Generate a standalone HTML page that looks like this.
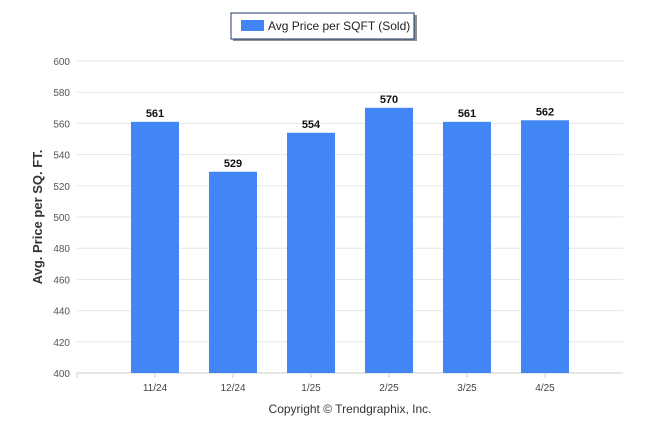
<!DOCTYPE html>
<html><head><meta charset="utf-8"><style>
body{margin:0;background:#fff;font-family:"Liberation Sans",sans-serif}
</style></head><body>
<svg width="646" height="434" xmlns="http://www.w3.org/2000/svg">
<g>
<rect x="233" y="15" width="184" height="26" fill="#8a8f99"/>
<rect x="231" y="13" width="183" height="26" fill="#fff" stroke="#1f3a63" stroke-width="1"/>
<rect x="241" y="20" width="23" height="11" fill="#4285f4"/>
<text x="268" y="30" font-size="12" fill="#222">Avg Price per SQFT (Sold)</text>
</g>
<g id="grid"></g>
<g id="bars"></g>
<text transform="translate(42,217) rotate(-90)" text-anchor="middle" font-size="13" font-weight="bold" fill="#333">Avg. Price per SQ. FT.</text>
<text x="350" y="413" text-anchor="middle" font-size="12" fill="#333">Copyright © Trendgraphix, Inc.</text>
</svg>
<script>
const categories=["11/24","12/24","1/25","2/25","3/25","4/25"];
const values=[561,529,554,570,561,562];
const yTicks=[400,420,440,460,480,500,520,540,560,580,600];
const NS="http://www.w3.org/2000/svg";
const yMin=400,yMax=600,plotTop=61,plotBot=373,plotLeft=77,plotBand=78;
function yPos(v){return plotBot-(v-yMin)/(yMax-yMin)*(plotBot-plotTop);}
function xPos(i){return plotLeft+plotBand*(i+1);}
function mk(t,a,p){const e=document.createElementNS(NS,t);for(const k in a)e.setAttribute(k,a[k]);p.appendChild(e);return e;}
const gridG=document.getElementById('grid'),barsG=document.getElementById('bars');
yTicks.forEach(v=>{
 const l=mk('line',{x1:plotLeft,x2:623,y1:yPos(v),y2:yPos(v),stroke:'#e6e6e6'},gridG);
 
 
 const t=mk('text',{x:70,y:yPos(v)+4,'text-anchor':'end','font-size':'10',fill:'#555'},gridG);
 t.textContent=v;
 
 
});
const ax=mk('line',{x1:plotLeft,x2:623,y1:plotBot,y2:plotBot,stroke:'#ccc'},gridG);


for(let i=-1;i<categories.length;i++){
 const tk=mk('line',{x1:xPos(i),x2:xPos(i),y1:plotBot,y2:plotBot+5,stroke:'#ccc'},gridG);
 
 
}
categories.forEach((c,i)=>{
 const r=mk('rect',{x:xPos(i)-24,y:yPos(values[i]),width:48,height:plotBot-yPos(values[i]),fill:'#4285f4'},barsG);
 
 
 const t=mk('text',{x:xPos(i),y:yPos(values[i])-5,'text-anchor':'middle','font-size':'11','font-weight':'bold',fill:'#111'},barsG);
 t.textContent=values[i];
 
 
 const xl=mk('text',{x:xPos(i),y:391,'text-anchor':'middle','font-size':'10',fill:'#444'},barsG);
 xl.textContent=c;
 
 
});
</script>
</body></html>
